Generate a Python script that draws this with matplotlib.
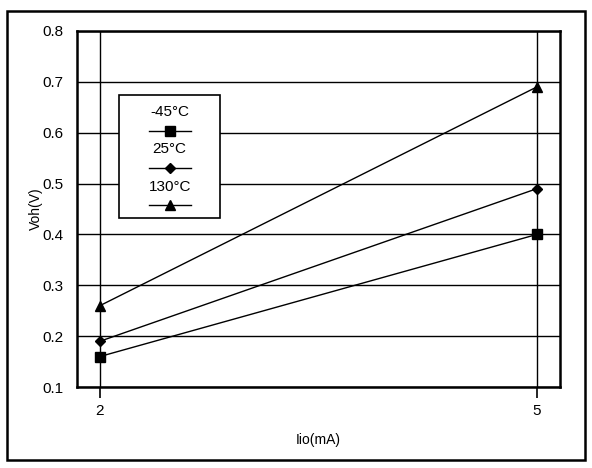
import matplotlib.pyplot as plt
from matplotlib.patches import Rectangle

plt.rcParams['font.family'] = ['Liberation Sans', 'DejaVu Sans']

current = [2, 5]
temps = ['-45°C', '25°C', '130°C']
voh_m45 = [0.16, 0.40]
voh_25 = [0.19, 0.49]
voh_130 = [0.26, 0.69]
markers = ['s', 'D', '^']
msizes = [7, 5, 7]

fig = plt.figure(figsize=(5.92, 4.68), dpi=100)
ax = fig.add_axes([0.130, 0.173, 0.816, 0.761])

for vals, m, ms in zip([voh_m45, voh_25, voh_130], markers, msizes):
    ax.plot(current, vals, '-', color='black', lw=1, marker=m, ms=ms, zorder=3)

ax.set_xlim(1.842, 5.158)
ax.set_ylim(0.1, 0.8)
ax.set_xticks(current)
ax.set_yticks([0.1, 0.2, 0.3, 0.4, 0.5, 0.6, 0.7, 0.8])
ax.tick_params(axis='x', direction='out', length=8, width=1.2, labelsize=11, pad=4)
ax.tick_params(axis='y', length=0, labelsize=11, pad=10)
ax.grid(True, color='black', lw=1)
for s in ax.spines.values():
    s.set_linewidth(1.8)

ax.set_xlabel('Iio(mA)', fontsize=10, labelpad=11)
ax.set_ylabel('Voh(V)', fontsize=10, labelpad=-1)

# legend box drawn by hand (labels sit above the handles)
tr = ax.transAxes
ax.add_patch(Rectangle((0.087, 0.475), 0.209, 0.345, transform=tr,
                       facecolor='white', edgecolor='black', lw=1.2, zorder=4))
label_y = [0.772, 0.667, 0.562]
for name, m, ms, ly in zip(temps, markers, msizes, label_y):
    ax.text(0.192, ly, name, transform=tr, ha='center', va='center', fontsize=11, zorder=5)
    ax.plot([0.150, 0.237], [ly - 0.052] * 2, transform=tr, color='black', lw=1,
            zorder=5, clip_on=False)
    ax.plot([0.193], [ly - 0.052], transform=tr, color='black', marker=m, ms=ms,
            zorder=6, clip_on=False)

fig.patches.append(Rectangle((0.0118, 0.017), 0.976, 0.9595, transform=fig.transFigure,
                             fill=False, edgecolor='black', lw=1.8))

plt.savefig('out.png', dpi=100)
